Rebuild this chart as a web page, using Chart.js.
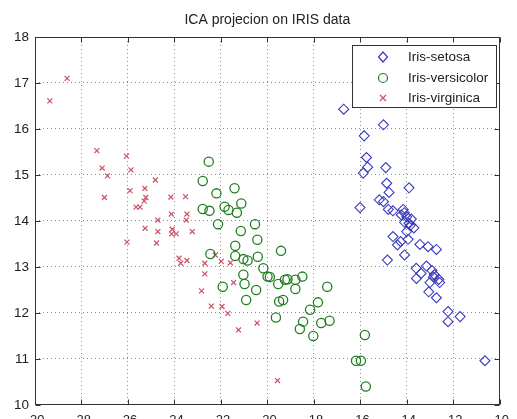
<!DOCTYPE html>
<html>
<head>
<meta charset="utf-8">
<script src="https://cdn.jsdelivr.net/npm/chart.js@4.4.0/dist/chart.umd.min.js"></script>
<style>
  body { margin: 0; background: #fff; }
</style>
</head>
<body>
<canvas id="icaChart" width="517" height="419"></canvas>
<script>
// values
var setosaX = [-16.71,-15.00,-15.83,-15.73,-15.68,-15.87,-14.90,-14.86,-14.76,-13.90,-15.18,-15.00,-16.01,-14.79,-14.59,-14.15,-14.23,-14.00,-13.80,-14.09,-13.90,-13.69,-14.00,-14.59,-14.40,-14.26,-13.94,-14.83,-14.09,-13.43,-13.08,-12.72,-13.59,-13.38,-13.58,-13.15,-12.91,-12.81,-12.62,-12.58,-13.00,-13.05,-12.72,-12.22,-12.22,-11.70,-10.63,-14.10,-13.85,-12.85];
var setosaY = [16.43,16.09,15.85,15.38,15.17,15.04,15.16,14.82,14.62,14.72,14.46,14.42,14.29,14.25,14.22,14.25,14.13,14.09,14.04,13.97,13.95,13.85,13.77,13.66,13.48,13.55,13.60,13.15,13.26,13.49,13.44,13.38,12.97,12.86,12.75,13.02,12.92,12.83,12.73,12.66,12.66,12.46,12.33,12.03,11.81,11.92,10.96,14.18,13.90,12.78];

var versicolorX = [-22.52,-22.78,-22.19,-21.41,-21.12,-22.78,-22.49,-21.84,-21.67,-21.31,-22.12,-20.53,-21.14,-20.43,-21.38,-19.41,-22.45,-21.38,-21.03,-20.85,-20.41,-20.17,-19.99,-19.89,-21.03,-20.98,-21.92,-20.48,-20.91,-19.53,-19.24,-19.13,-18.79,-18.49,-18.79,-19.49,-19.32,-17.42,-17.82,-18.16,-19.63,-18.46,-18.60,-17.68,-17.32,-18.02,-15.80,-16.18,-15.97,-15.76];
var versicolorY = [15.29,14.87,14.60,14.71,14.38,14.26,14.22,14.31,14.24,14.18,13.93,13.93,13.78,13.59,13.46,13.35,13.28,13.24,13.17,13.14,13.22,12.97,12.79,12.78,12.83,12.63,12.57,12.50,12.28,12.63,12.72,12.73,12.72,12.79,12.52,12.25,12.28,12.57,12.23,12.07,11.90,11.81,11.65,11.78,11.83,11.50,11.52,10.96,10.96,10.40];

var virginicaX = [-29.36,-28.62,-27.34,-27.11,-26.88,-27.01,-26.06,-25.87,-25.91,-25.27,-24.82,-25.23,-25.30,-25.65,-25.48,-24.15,-23.52,-24.13,-23.46,-24.71,-23.49,-25.26,-24.71,-24.09,-24.12,-23.92,-23.23,-26.04,-24.77,-23.80,-23.73,-23.46,-22.69,-22.24,-22.69,-22.83,-22.41,-21.98,-21.59,-21.95,-21.70,-21.45,-20.44,-21.24,-19.56];
var virginicaY = [16.61,17.10,15.53,15.15,14.98,14.51,15.41,15.11,14.66,14.71,14.89,14.51,14.43,14.30,14.30,14.52,14.53,14.15,14.15,14.02,14.02,13.84,13.77,13.82,13.72,13.72,13.77,13.54,13.52,13.19,13.08,13.14,13.08,13.26,12.85,12.48,12.15,13.12,13.09,12.14,11.99,12.66,11.78,11.63,10.53];

var seriesNames = ['Iris-setosa', 'Iris-versicolor', 'Iris-virginica'];
var xTicks = [-30, -28, -26, -24, -22, -20, -18, -16, -14, -12, -10];
var yTicks = [10, 11, 12, 13, 14, 15, 16, 17, 18];

var blue = '#3b3bbd', green = '#1f7f1f', red = '#cc5064';
var fontName = '"Liberation Sans", Arial, sans-serif';

var pts = (xs, ys) => xs.map((x, i) => ({x: x, y: ys[i]}));

// axes box, inward ticks and the boxed legend, drawn the way matlab does
var matlabBox = {
  id: 'matlabBox',
  afterDraw: (chart) => {
    let c = chart.ctx, a = chart.chartArea;
    let sx = chart.scales.x, sy = chart.scales.y;
    let l = Math.round(a.left) + .5, r = Math.round(a.right) - .5;
    let t = Math.round(a.top) + .5, b = Math.round(a.bottom) - .5;
    c.save();
    c.strokeStyle = '#333';
    c.lineWidth = 1;
    c.setLineDash([]);
    c.strokeRect(l, t, r - l, b - t);
    c.beginPath();
    xTicks.forEach(v => {
      let px = Math.round(sx.getPixelForValue(v)) + .5;
      c.moveTo(px, b); c.lineTo(px, b - 5);
      c.moveTo(px, t); c.lineTo(px, t + 5);
    });
    yTicks.forEach(v => {
      let py = Math.round(sy.getPixelForValue(v)) + .5;
      c.moveTo(l, py); c.lineTo(l + 5, py);
      c.moveTo(r, py); c.lineTo(r - 5, py);
    });
    c.stroke();

    // legend
    c.fillStyle = '#fff';
    c.fillRect(352.5, 45.5, 144, 62);
    c.strokeRect(352.5, 45.5, 144, 62);
    let rows = [57, 78, 98];
    let mx = 383;
    c.lineWidth = 1.2;
    // diamond
    c.strokeStyle = blue;
    c.beginPath();
    c.moveTo(mx, rows[0] - 5); c.lineTo(mx + 4.5, rows[0]); c.lineTo(mx, rows[0] + 5); c.lineTo(mx - 4.5, rows[0]);
    c.closePath(); c.stroke();
    // circle
    c.strokeStyle = green;
    c.beginPath();
    c.arc(mx, rows[1], 4.5, 0, Math.PI * 2);
    c.stroke();
    // cross
    c.strokeStyle = red;
    c.beginPath();
    c.moveTo(mx - 3, rows[2] - 3); c.lineTo(mx + 3, rows[2] + 3);
    c.moveTo(mx + 3, rows[2] - 3); c.lineTo(mx - 3, rows[2] + 3);
    c.stroke();

    c.fillStyle = '#222';
    c.font = '13.5px ' + fontName;
    c.textAlign = 'left';
    c.textBaseline = 'middle';
    seriesNames.forEach((n, i) => c.fillText(n, 408, rows[i]));
    c.restore();
  }
};

var ctx = document.getElementById('icaChart').getContext('2d');
var icaChart = new Chart(ctx, {
  type: 'scatter',
  data: {
    datasets: [{
      label: seriesNames[0],
      data: pts(setosaX, setosaY),
      pointStyle: 'rectRot',
      pointRadius: 5,
      borderColor: blue,
      backgroundColor: 'rgba(0,0,0,0)',
      borderWidth: 1.1
    },
    {
      label: seriesNames[1],
      data: pts(versicolorX, versicolorY),
      pointStyle: 'circle',
      pointRadius: 4.6,
      borderColor: green,
      backgroundColor: 'rgba(0,0,0,0)',
      borderWidth: 1.3
    },
    {
      label: seriesNames[2],
      data: pts(virginicaX, virginicaY),
      pointStyle: 'crossRot',
      pointRadius: 3.5,
      borderColor: red,
      backgroundColor: red,
      borderWidth: 1.2
    }
    ]
  },
  options: {
    responsive: false,
    animation: false,
    layout: { padding: { left: 0, right: 14, top: 0, bottom: 0 } },
    plugins: {
      legend: { display: false },
      tooltip: { enabled: false },
      title: {
        display: true,
        text: 'ICA projecion on IRIS data',
        fullSize: false,
        color: '#222',
        font: { family: fontName, size: 14, weight: 'normal', lineHeight: 1.2 },
        padding: { top: 12, bottom: 8.2 }
      }
    },
    scales: {
      x: {
        type: 'linear',
        min: -30,
        max: -10,
        afterFit: (s) => { s.height = 14; },
        afterBuildTicks: (s) => { s.ticks = xTicks.map(v => ({value: v})); },
        ticks: { stepSize: 2, padding: 8, color: '#222', font: { family: fontName, size: 13 }, autoSkip: false, maxRotation: 0 },
        grid: { color: '#8a8a8a', lineWidth: 1, drawTicks: false },
        border: { display: false, dash: [1, 3] }
      },
      y: {
        type: 'linear',
        min: 10,
        max: 18,
        afterFit: (s) => { s.width = 35; },
        afterBuildTicks: (s) => { s.ticks = yTicks.map(v => ({value: v})); },
        ticks: { stepSize: 1, padding: 6, color: '#222', font: { family: fontName, size: 13.5 }, autoSkip: false },
        grid: { color: '#8a8a8a', lineWidth: 1, drawTicks: false },
        border: { display: false, dash: [1, 3] }
      }
    }
  },
  plugins: [matlabBox]
});
</script>
</body>
</html>
